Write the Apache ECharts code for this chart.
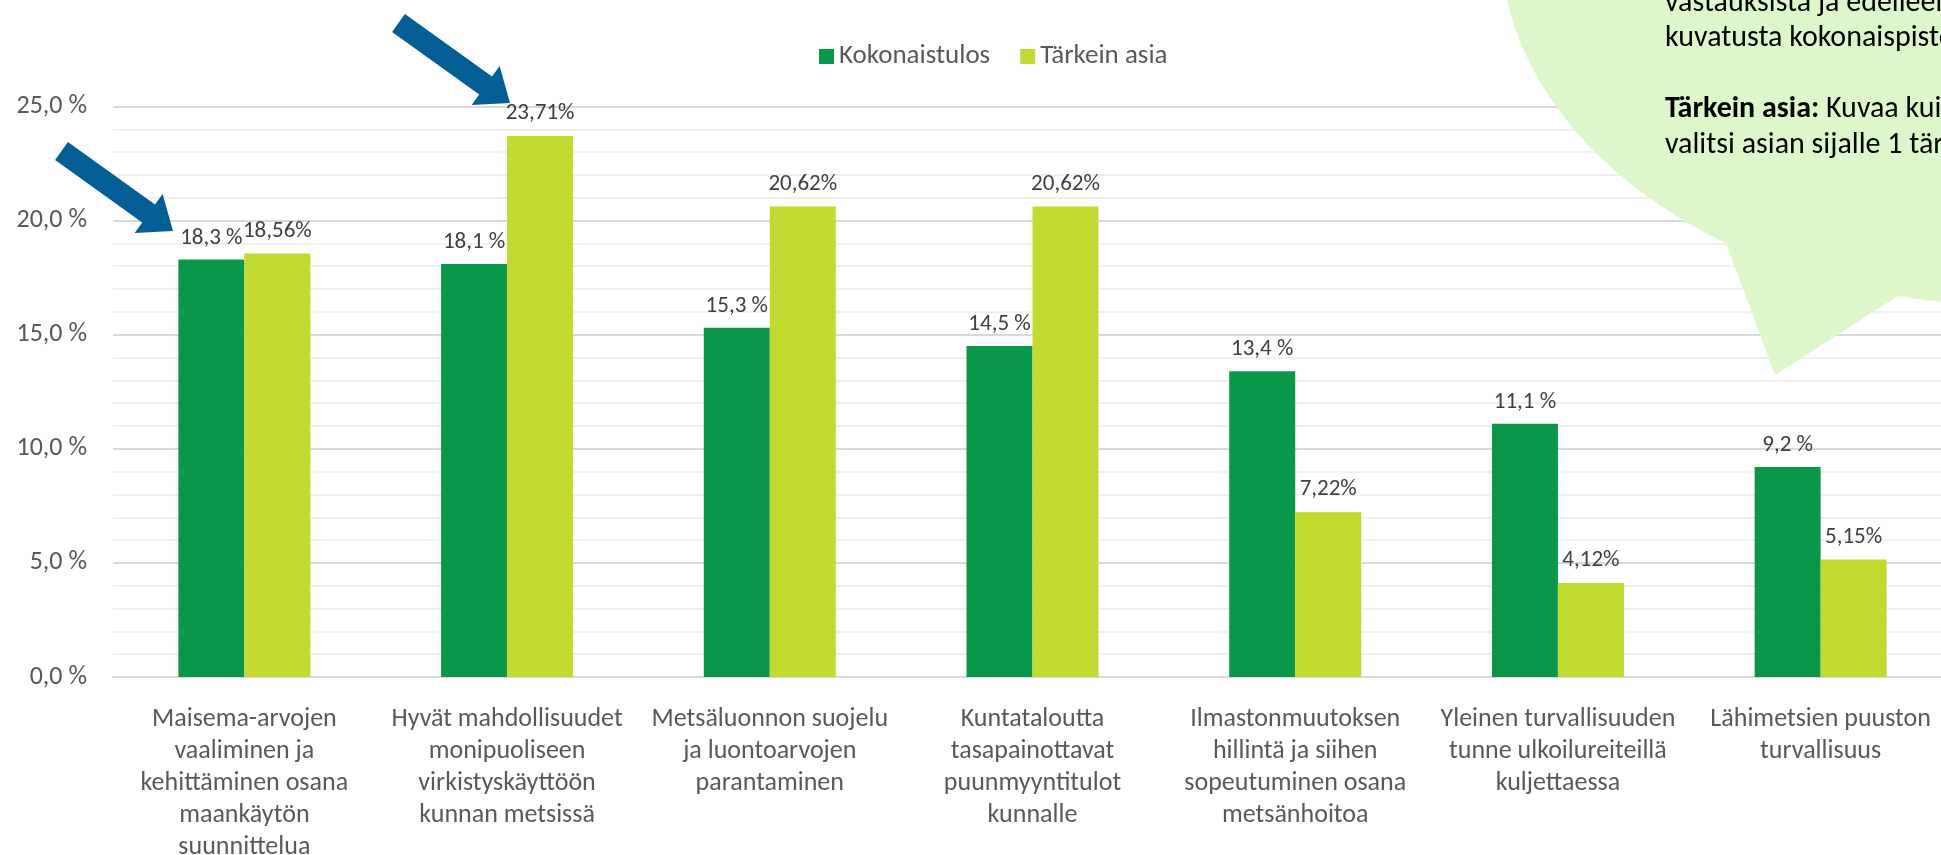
<!DOCTYPE html>
<html>
<head>
<meta charset="utf-8">
<title>Kokonaistulos ja tärkein asia</title>
<script src="https://cdn.jsdelivr.net/npm/echarts@6/dist/echarts.min.js"></script>
<style>
  html, body { margin: 0; padding: 0; background: #fff; }
  #chart { width: 1941px; height: 855px; }
</style>
</head>
<body>
<div id="chart"></div>
<script>
// data
var categories = [
  'Maisema-arvojen\nvaaliminen ja\nkehittäminen osana\nmaankäytön\nsuunnittelua',
  'Hyvät mahdollisuudet\nmonipuoliseen\nvirkistyskäyttöön\nkunnan metsissä',
  'Metsäluonnon suojelu\nja luontoarvojen\nparantaminen',
  'Kuntataloutta\ntasapainottavat\npuunmyyntitulot\nkunnalle',
  'Ilmastonmuutoksen\nhillintä ja siihen\nsopeutuminen osana\nmetsänhoitoa',
  'Yleinen turvallisuuden\ntunne ulkoilureiteillä\nkuljettaessa',
  'Lähimetsien puuston\nturvallisuus'
]
var kokonaistulos = [18.3, 18.1, 15.3, 14.5, 13.4, 11.1, 9.2]
var tarkeinAsia = [18.56, 23.71, 20.62, 20.62, 7.22, 4.12, 5.15]
var seriesNames = ['Kokonaistulos', 'Tärkein asia']
var bubbleLines = [
  'vastauksista ja edelleen',
  'kuvatusta kokonaispiste',
  '',
  '{b|Tärkein asia:} Kuvaa kui',
  'valitsi asian sijalle 1 tärk'
]

var FONT = 'Carlito, Calibri, Lato, sans-serif'
var GREEN = '#0a974a'
var LIME = '#c2d92f'
var ARROW = '#025e95'
var BUBBLE = '#ddf7cb'

function comma(v, d) {
  return v.toFixed(d).replace('.', ',')
}

// block arrow, given its tip and the vector from tail to tip
function arrowPoints(tipX, tipY, dx, dy) {
  var len = Math.sqrt(dx * dx + dy * dy)
  var ux = dx / len, uy = dy / len
  var nx = -uy, ny = ux
  var shaft = 11, head = 24, headLen = 30
  function p(a, b) { return [tipX + ux * a + nx * b, tipY + uy * a + ny * b] }
  return [
    p(-len, -shaft), p(-headLen, -shaft), p(-headLen, -head),
    p(0, 0),
    p(-headLen, head), p(-headLen, shaft), p(-len, shaft)
  ]
}

var myChart = echarts.init(document.getElementById('chart'))

var bubbleText = bubbleLines.map(function (t, i) {
  return {
    type: 'text',
    z: 101,
    x: 1665,
    y: 3 + i * 35.5,
    style: {
      text: t,
      fill: '#000',
      fontFamily: FONT,
      fontSize: 30,
      verticalAlign: 'middle',
      rich: { b: { fontFamily: FONT, fontSize: 30, fontWeight: 'bold', fill: '#000' } }
    }
  }
})

var option = {
  animation: false,
  backgroundColor: '#fff',
  textStyle: { fontFamily: FONT },
  legend: {
    data: seriesNames,
    left: 814,
    top: 38,
    icon: 'rect',
    itemWidth: 15,
    itemHeight: 15,
    itemGap: 30,
    textStyle: { fontFamily: FONT, fontSize: 27, color: '#595959' }
  },
  grid: {
    left: 113, top: 106.5, width: 1839, bottom: 178,
    containLabel: false,
    outerBoundsMode: 'none'
  },
  xAxis: {
    type: 'category',
    data: categories,
    axisTick: { show: false },
    axisLine: { lineStyle: { color: '#d9d9d9', width: 2 } },
    axisLabel: {
      interval: 0,
      margin: 26,
      fontFamily: FONT,
      fontSize: 26,
      lineHeight: 32,
      color: '#595959',
      align: 'center'
    }
  },
  yAxis: {
    type: 'value',
    min: 0,
    max: 25,
    interval: 5,
    axisLine: { show: false },
    axisTick: { show: false },
    axisLabel: {
      margin: 26,
      fontFamily: FONT,
      fontSize: 26,
      color: '#595959',
      formatter: function (v) { return comma(v, 1) + ' %' }
    },
    splitLine: { lineStyle: { color: '#d9d9d9', width: 2 } },
    minorTick: { show: false, splitNumber: 5 },
    minorSplitLine: { show: true, lineStyle: { color: '#f0f0f0', width: 2 } }
  },
  series: [
    {
      name: seriesNames[0],
      type: 'bar',
      data: kokonaistulos,
      barWidth: 66,
      barGap: '0%',
      itemStyle: { color: GREEN },
      label: {
        show: true,
        position: 'top',
        distance: 10,
        fontFamily: FONT,
        fontSize: 23,
        color: '#404040',
        formatter: function (p) { return comma(p.value, 1) + ' %' }
      }
    },
    {
      name: seriesNames[1],
      type: 'bar',
      data: tarkeinAsia,
      barWidth: 66,
      itemStyle: { color: LIME },
      label: {
        show: true,
        position: 'top',
        distance: 11,
        fontFamily: FONT,
        fontSize: 23,
        color: '#404040',
        formatter: function (p) { return comma(p.value, 2) + '%' }
      }
    }
  ],
  graphic: [
    // speech bubble in the top right corner
    {
      type: 'circle',
      z: 100,
      x: 2010,
      y: -60,
      scaleX: 510 / 365,
      shape: { cx: 0, cy: 0, r: 365 },
      style: { fill: BUBBLE }
    },
    {
      type: 'polygon',
      z: 100,
      shape: { points: [[1725, 240], [1775, 375], [1915, 285]] },
      style: { fill: BUBBLE }
    }
  ].concat(bubbleText).concat([
    // blue arrows
    {
      type: 'polygon',
      z: 102,
      shape: { points: arrowPoints(173, 231, 111.5, 80) },
      style: { fill: ARROW }
    },
    {
      type: 'polygon',
      z: 102,
      shape: { points: arrowPoints(510, 103, 111.5, 80) },
      style: { fill: ARROW }
    }
  ])
}

myChart.setOption(option)
</script>
</body>
</html>
